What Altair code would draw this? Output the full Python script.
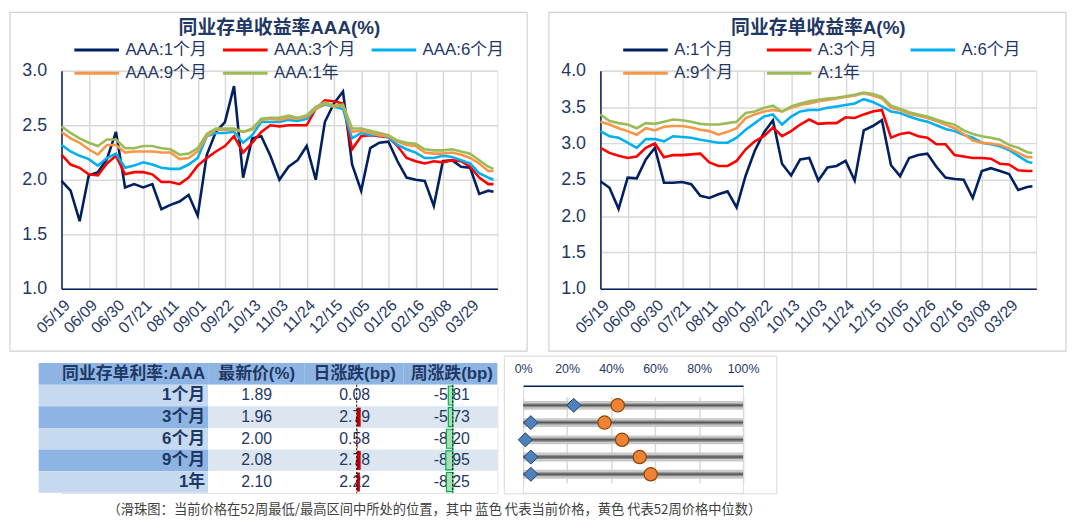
import altair as alt
import pandas as pd

FONT = "Liberation Sans, Arial, Noto Sans CJK SC, sans-serif"
CJK = "Noto Sans CJK SC, Liberation Sans, sans-serif"
TXT = "#1F3864"
AXC = "#002060"
GRID = "#D9D9D9"

# ---------------- data ----------------
dates = ["2023/05/19", "2023/05/26", "2023/06/02", "2023/06/09", "2023/06/16", "2023/06/23",
         "2023/06/30", "2023/07/07", "2023/07/14", "2023/07/21", "2023/07/28", "2023/08/04",
         "2023/08/11", "2023/08/18", "2023/08/25", "2023/09/01", "2023/09/08", "2023/09/15",
         "2023/09/22", "2023/09/29", "2023/10/06", "2023/10/13", "2023/10/20", "2023/10/27",
         "2023/11/03", "2023/11/10", "2023/11/17", "2023/11/24", "2023/12/01", "2023/12/08",
         "2023/12/15", "2023/12/22", "2023/12/29", "2024/01/05", "2024/01/12", "2024/01/19",
         "2024/01/26", "2024/02/02", "2024/02/09", "2024/02/16", "2024/02/23", "2024/03/01",
         "2024/03/08", "2024/03/15", "2024/03/22", "2024/03/29", "2024/04/05", "2024/04/12",
         "2024/04/16"]
tick_dates = ["2023/05/19", "2023/06/09", "2023/06/30", "2023/07/21", "2023/08/11", "2023/09/01",
              "2023/09/22", "2023/10/13", "2023/11/03", "2023/11/24", "2023/12/15", "2024/01/05",
              "2024/01/26", "2024/02/16", "2024/03/08", "2024/03/29"]

aaa_names = ["AAA:1个月", "AAA:3个月", "AAA:6个月", "AAA:9个月", "AAA:1年"]
a_names = ["A:1个月", "A:3个月", "A:6个月", "A:9个月", "A:1年"]
line_colors = ["#002060", "#FF0000", "#00B0F0", "#F79646", "#9BBB59"]

aaa_1m = [1.99, 1.90, 1.62, 2.04, 2.07, 2.19, 2.44, 1.93, 1.96, 1.93, 1.96, 1.73, 1.77, 1.80,
          1.86, 1.67, 2.23, 2.44, 2.53, 2.86, 2.02, 2.38, 2.40, 2.22, 2.00, 2.12, 2.18, 2.31,
          2.00, 2.53, 2.70, 2.81, 2.14, 1.90, 2.29, 2.34, 2.35, 2.17, 2.02, 2.00, 1.99, 1.76,
          2.17, 2.18, 2.12, 2.11, 1.87, 1.90, 1.89]
aaa_3m = [2.23, 2.14, 2.11, 2.05, 2.04, 2.15, 2.22, 2.05, 2.07, 2.07, 2.05, 1.98, 1.98, 1.96,
          2.02, 2.13, 2.20, 2.26, 2.31, 2.40, 2.25, 2.34, 2.44, 2.50, 2.49, 2.50, 2.50, 2.50,
          2.65, 2.73, 2.72, 2.70, 2.28, 2.40, 2.41, 2.40, 2.39, 2.31, 2.20, 2.17, 2.15, 2.17,
          2.16, 2.18, 2.17, 2.12, 2.02, 1.96, 1.96]
aaa_6m = [2.32, 2.26, 2.22, 2.19, 2.13, 2.20, 2.24, 2.11, 2.13, 2.16, 2.14, 2.11, 2.10, 2.10,
          2.14, 2.20, 2.40, 2.43, 2.43, 2.44, 2.34, 2.41, 2.53, 2.53, 2.53, 2.55, 2.54, 2.56,
          2.65, 2.69, 2.67, 2.65, 2.38, 2.43, 2.41, 2.41, 2.39, 2.32, 2.28, 2.25, 2.20, 2.20,
          2.22, 2.21, 2.18, 2.15, 2.06, 2.02, 2.00]
aaa_9m = [2.44, 2.38, 2.34, 2.28, 2.23, 2.32, 2.32, 2.25, 2.26, 2.26, 2.26, 2.25, 2.25, 2.19,
          2.20, 2.26, 2.40, 2.46, 2.46, 2.46, 2.44, 2.46, 2.55, 2.56, 2.55, 2.57, 2.56, 2.58,
          2.65, 2.70, 2.67, 2.68, 2.44, 2.45, 2.43, 2.41, 2.40, 2.35, 2.32, 2.31, 2.25, 2.24,
          2.24, 2.25, 2.23, 2.20, 2.15, 2.08, 2.08]
aaa_1y = [2.49, 2.43, 2.38, 2.34, 2.31, 2.37, 2.37, 2.29, 2.29, 2.31, 2.31, 2.29, 2.28, 2.23,
          2.24, 2.29, 2.42, 2.47, 2.47, 2.47, 2.44, 2.47, 2.56, 2.57, 2.57, 2.59, 2.57, 2.59,
          2.67, 2.71, 2.68, 2.69, 2.47, 2.47, 2.45, 2.43, 2.41, 2.36, 2.34, 2.33, 2.28, 2.27,
          2.27, 2.28, 2.26, 2.24, 2.18, 2.12, 2.10]

a_1m = [2.48, 2.39, 2.10, 2.53, 2.52, 2.78, 2.94, 2.46, 2.46, 2.47, 2.44, 2.28, 2.25, 2.30,
        2.34, 2.12, 2.56, 2.90, 3.15, 3.32, 2.72, 2.56, 2.78, 2.80, 2.49, 2.67, 2.69, 2.76,
        2.49, 3.18, 3.24, 3.32, 2.70, 2.55, 2.80, 2.84, 2.86, 2.68, 2.53, 2.51, 2.50, 2.25,
        2.62, 2.66, 2.62, 2.58, 2.36, 2.40, 2.41]
a_3m = [2.94, 2.87, 2.83, 2.80, 2.82, 2.94, 3.00, 2.81, 2.84, 2.84, 2.85, 2.86, 2.74, 2.69,
        2.69, 2.76, 2.92, 3.03, 3.10, 3.22, 3.10, 3.17, 3.26, 3.33, 3.27, 3.28, 3.28, 3.36,
        3.35, 3.40, 3.44, 3.46, 3.08, 3.13, 3.15, 3.10, 3.08, 2.99, 2.99, 2.84, 2.82, 2.80,
        2.80, 2.79, 2.72, 2.71, 2.63, 2.62, 2.62]
a_6m = [3.17, 3.10, 3.08, 3.01, 2.94, 3.06, 3.06, 3.03, 3.10, 3.09, 3.08, 3.05, 3.03, 3.01,
        3.01, 3.08, 3.19, 3.28, 3.37, 3.40, 3.26, 3.37, 3.44, 3.46, 3.46, 3.49, 3.51, 3.53,
        3.55, 3.61, 3.57, 3.51, 3.44, 3.42, 3.37, 3.33, 3.30, 3.25, 3.20, 3.17, 3.12, 3.08,
        3.01, 2.99, 2.96, 2.91, 2.83, 2.75, 2.73]
a_9m = [3.30, 3.26, 3.21, 3.17, 3.12, 3.21, 3.18, 3.23, 3.24, 3.24, 3.22, 3.19, 3.17, 3.12,
        3.16, 3.21, 3.35, 3.40, 3.44, 3.46, 3.44, 3.49, 3.53, 3.55, 3.58, 3.60, 3.62, 3.64,
        3.66, 3.69, 3.66, 3.62, 3.49, 3.46, 3.41, 3.38, 3.35, 3.31, 3.26, 3.21, 3.13, 3.04,
        3.01, 3.00, 2.98, 2.93, 2.87, 2.81, 2.81]
a_1y = [3.40, 3.31, 3.28, 3.26, 3.21, 3.28, 3.27, 3.30, 3.33, 3.32, 3.30, 3.27, 3.26, 3.26,
        3.28, 3.30, 3.42, 3.44, 3.49, 3.52, 3.44, 3.51, 3.55, 3.58, 3.60, 3.62, 3.63, 3.65,
        3.67, 3.70, 3.68, 3.64, 3.52, 3.48, 3.43, 3.40, 3.37, 3.33, 3.29, 3.26, 3.18, 3.13,
        3.10, 3.08, 3.05, 2.98, 2.94, 2.88, 2.87]

row_labels = ["1个月", "3个月", "6个月", "9个月", "1年"]
table_headers = ["同业存单利率:AAA", "最新价(%)", "日涨跌(bp)", "周涨跌(bp)"]
latest = [1.89, 1.96, 2.00, 2.08, 2.10]
daily_bp = [0.08, 2.79, 0.58, 2.78, 2.22]
weekly_bp = [-5.81, -5.73, -8.20, -8.95, -8.25]
bead_current = [0.23, 0.035, 0.01, 0.035, 0.035]
bead_median = [0.43, 0.37, 0.45, 0.53, 0.58]
bead_ticks = [0, 0.2, 0.4, 0.6, 0.8, 1.0]
footnote = "（滑珠图：当前价格在52周最低/最高区间中所处的位置，其中 蓝色 代表当前价格，黄色 代表52周价格中位数）"


def to_dt(s):
    y, m, d = (int(p) for p in s.split("/"))
    return alt.DateTime(year=y, month=m, date=d)


X_DOMAIN = [to_dt("2023/05/19"), to_dt("2024/04/19")]
PW, PH = 440, 220


def line_panel(title, names, series, yticks, legend_x, col_pad):
    df = pd.DataFrame([{"date": d, "series": n, "value": v}
                       for n, vals in zip(names, series) for d, v in zip(dates, vals)])
    frame = alt.Chart(pd.DataFrame({"f": [0]})).mark_rect(
        fillOpacity=0, stroke="#D0D0D0", strokeWidth=1.2
    ).encode(x=alt.value(-52), x2=alt.value(470), y=alt.value(-59), y2=alt.value(283))
    lines = alt.Chart(df).mark_line(strokeWidth=2.6).encode(
        x=alt.X("date:T", scale=alt.Scale(domain=X_DOMAIN),
                axis=alt.Axis(values=[to_dt(t) for t in tick_dates], format="%m/%d",
                              labelAngle=-45, labelFontSize=16, labelColor=TXT, labelFont=FONT,
                              labelPadding=8, ticks=False, domainColor=AXC, domainWidth=1.5,
                              grid=True, gridColor=GRID, gridWidth=1.5, title=None,
                              labelOverlap=False, labelFlush=False)),
        y=alt.Y("value:Q", scale=alt.Scale(domain=[yticks[0], yticks[-1]], nice=False, zero=False),
                axis=alt.Axis(values=yticks, format=".1f", labelFontSize=18, labelColor=TXT,
                              labelFont=FONT, labelPadding=15, ticks=False, domainColor=AXC,
                              domainWidth=1.5, grid=True, gridColor=GRID, gridWidth=1.5,
                              title=None)),
        color=alt.Color("series:N", sort=names,
                        scale=alt.Scale(domain=names, range=line_colors),
                        legend=alt.Legend(title=None, orient="none", legendX=legend_x,
                                          legendY=-30, direction="horizontal", columns=3,
                                          symbolType="M-3,0L3,0", symbolStrokeWidth=3,
                                          symbolSize=225, symbolOffset=13.5,
                                          labelFont=FONT, labelFontSize=17,
                                          labelColor=TXT, columnPadding=col_pad, rowPadding=6.5,
                                          labelOffset=20, padding=0)),
    )
    return alt.layer(frame, lines).properties(
        width=PW, height=PH,
        title=alt.TitleParams(title, font=FONT, fontSize=19, fontWeight="bold", color=TXT,
                              anchor="middle", offset=-26))


left = line_panel("同业存单收益率AAA(%)", aaa_names, [aaa_1m, aaa_3m, aaa_6m, aaa_9m, aaa_1y],
                  [1.0, 1.5, 2.0, 2.5, 3.0], 13, 10)
right = line_panel("同业存单收益率A(%)", a_names, [a_1m, a_3m, a_6m, a_9m, a_1y],
                   [1.0, 1.5, 2.0, 2.5, 3.0, 3.5, 4.0], 23, 27)

top = alt.hconcat(left, right, spacing=18).resolve_scale(
    x="independent", y="independent", color="independent").resolve_legend(color="independent")

# ---------------- table ----------------
TW, TH = 440, 108
tbl_rows = ["hdr"] + row_labels
HDR_BG = "#8DB4E2"
COL0_LIGHT = "#C5D9F1"
COL0_DARK = "#8DB4E2"
ROW_LIGHT = "#DCE6F1"
col_edges = [-23, 148, 245, 345, 440]
col_text_x = [145, 197, 296, 394]

cells = []
for j in range(4):
    cells.append({"row": "hdr", "x0": col_edges[j], "x1": col_edges[j + 1], "fill": HDR_BG})
for i, lab in enumerate(row_labels):
    dark = i % 2 == 1
    cells.append({"row": lab, "x0": col_edges[0], "x1": col_edges[1],
                  "fill": COL0_DARK if dark else COL0_LIGHT})
    cells.append({"row": lab, "x0": col_edges[1], "x1": col_edges[4],
                  "fill": ROW_LIGHT if dark else "#FFFFFF"})
cells_df = pd.DataFrame(cells)

col0_df = pd.DataFrame({"row": tbl_rows, "text": [table_headers[0]] + row_labels,
                        "x": [col_text_x[0]] * len(tbl_rows)})
hdr_df = pd.DataFrame({"row": ["hdr"] * 3, "text": table_headers[1:], "x": col_text_x[1:]})
vals = []
for i, lab in enumerate(row_labels):
    for j, v in enumerate([latest[i], daily_bp[i], weekly_bp[i]]):
        vals.append({"row": lab, "text": f"{v:.2f}", "x": col_text_x[j + 1]})
vals_df = pd.DataFrame(vals)
bars_df = pd.DataFrame({"row": row_labels, "daily": daily_bp, "weekly": weekly_bp})

xs = alt.Scale(domain=[0, TW], nice=False, zero=False)
yenc = alt.Y("row:N", scale=alt.Scale(domain=tbl_rows, range=[-23, TH], paddingInner=0,
                                      paddingOuter=0), axis=None)
daily_scale = alt.Scale(domain=[0, max(daily_bp)], range=[298, 302], nice=False)
weekly_scale = alt.Scale(domain=[min(weekly_bp), 0], range=[388, 395], nice=False)

bg = alt.Chart(cells_df).mark_rect().encode(
    x=alt.X("x0:Q", scale=xs, axis=None), x2="x1:Q", y=yenc,
    fill=alt.Fill("fill:N", scale=None))
t0 = alt.Chart(col0_df).mark_text(align="right", fontWeight="bold", fontSize=17, color=TXT,
                                  font=FONT).encode(
    x=alt.X("x:Q", scale=xs, axis=None), y=yenc, text="text:N")
th = alt.Chart(hdr_df).mark_text(align="center", fontWeight="bold", fontSize=17, color=TXT,
                                 font=FONT).encode(
    x=alt.X("x:Q", scale=xs, axis=None), y=yenc, text="text:N")
tv = alt.Chart(vals_df).mark_text(align="center", fontSize=16, color=TXT, font=FONT).encode(
    x=alt.X("x:Q", scale=xs, axis=None), y=yenc, text="text:N")
bd = alt.Chart(bars_df).mark_bar(height={"band": 0.88}, color="#C00000").encode(
    x=alt.X("daily:Q", scale=daily_scale, axis=None), y=yenc)
bw = alt.Chart(bars_df).mark_bar(height={"band": 0.88}, fill="#A9DDB6", stroke="#00B050",
                                 strokeWidth=1.2).encode(
    x=alt.X("weekly:Q", scale=weekly_scale, axis=None), y=yenc)
zero_df = pd.DataFrame({"z": [0]})
rd = alt.Chart(zero_df).mark_rule(color="black", strokeDash=[2, 2], strokeWidth=1).encode(
    x=alt.X("z:Q", scale=daily_scale, axis=None), y=alt.value(-1), y2=alt.value(TH))
rw = alt.Chart(zero_df).mark_rule(color="black", strokeDash=[2, 2], strokeWidth=1).encode(
    x=alt.X("z:Q", scale=weekly_scale, axis=None), y=alt.value(-1), y2=alt.value(TH))

table = alt.layer(bg, t0, th, tv, bd, bw, rd, rw).resolve_scale(x="independent").properties(
    width=TW, height=TH)

# ---------------- bead chart ----------------
BW, BH = 222, 108
bead_df = pd.DataFrame({"row": row_labels, "cur": bead_current, "med": bead_median})
bscale = alt.Scale(domain=[0, 1], nice=False, zero=False)
baxis = alt.Axis(orient="top", values=bead_ticks, format=".0%", labelFontSize=12.5,
                 labelColor=TXT, labelFont=FONT, labelPadding=10, ticks=False,
                 domainColor=AXC, domainWidth=1.5, grid=True, gridColor=GRID, gridWidth=1.5,
                 title=None, labelFlush=False)
by = alt.Y("row:N", scale=alt.Scale(domain=row_labels, type="point", range=[11, 98]),
           axis=None)

bframe = alt.Chart(pd.DataFrame({"f": [0]})).mark_rect(
    fillOpacity=0, stroke="#D9D9D9", strokeWidth=1
).encode(x=alt.value(-19), x2=alt.value(256), y=alt.value(-30), y2=alt.value(109))
rail1 = alt.Chart(bead_df).mark_rule(strokeWidth=9, color="#C9C9C9").encode(
    x=alt.datum(0), x2=alt.datum(1), y=by)
rail2 = alt.Chart(bead_df).mark_rule(strokeWidth=4, color="#8C8C8C").encode(
    x=alt.datum(0), x2=alt.datum(1), y=by)
rail3 = alt.Chart(bead_df).mark_rule(strokeWidth=1.5, color="#5A5A5A").encode(
    x=alt.datum(0), x2=alt.datum(1), y=by)
dia = alt.Chart(bead_df).mark_point(shape="diamond", filled=True, size=200, fill="#4F81BD",
                                    stroke="#254061", strokeWidth=1, opacity=1).encode(
    x=alt.X("cur:Q", scale=bscale, axis=baxis), y=by)
circ = alt.Chart(bead_df).mark_circle(size=180, fill="#EE8336", stroke="#8A4306",
                                      strokeWidth=1.2, opacity=1).encode(
    x=alt.X("med:Q", scale=bscale, axis=baxis), y=by)

bead = alt.layer(bframe, rail1, rail2, rail3, circ, dia).properties(width=BW, height=BH)

bottom = alt.hconcat(table, bead, spacing=5).resolve_scale(x="independent", y="independent").properties(
    title=alt.TitleParams(footnote, orient="bottom", anchor="start", dx=70, offset=8,
                          fontSize=13.4, fontWeight="normal", color="#404040", font=CJK))

chart = alt.vconcat(top, bottom, spacing=2).properties(padding=0).configure_view(
    strokeWidth=0).configure(font=FONT)

chart.save("out.html", embed_options={"renderer": "svg", "actions": False})
